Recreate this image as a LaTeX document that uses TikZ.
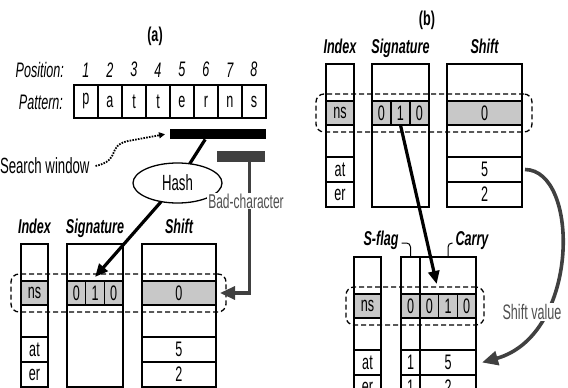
\documentclass[tikz,border=0pt]{standalone}
\usepackage{xcolor}
\usepackage{fontspec}
\setmainfont{Liberation Sans}[FakeStretch=0.6]
\newfontfamily\cabfont{Liberation Sans}[FakeStretch=0.63]
\usepackage{tikz}
\usetikzlibrary{positioning,arrows.meta,shapes.geometric,calc,fit}
\definecolor{relleno}{RGB}{200,200,200}
\definecolor{oscuro}{RGB}{64,64,64}
\definecolor{texto}{RGB}{80,80,80}

\begin{document}
\begin{tikzpicture}[x=1pt, y=-1pt,
  txt/.style={font=\fontsize{21}{24}\selectfont, inner sep=0pt, outer sep=0pt},
  cab/.style={txt, font=\cabfont\fontsize{20}{22}\selectfont\bfseries\itshape},
  celda/.style={txt, draw, line width=1.3pt, minimum width=#1},
  gris/.style={fill=relleno},
  f1/.style={minimum height=37}, f2/.style={minimum height=24},
  f3/.style={minimum height=32}, f4/.style={minimum height=25},
  marco/.style={draw, line width=1.3pt, dash pattern=on 5pt off 3pt,
    rounded corners=8pt, inner xsep=10pt, inner ysep=7pt},
  flecha/.style={line width=3.2pt, draw=#1,
    -{Triangle[length=13pt,width=11pt]}},
  guia/.style={line width=1pt, rounded corners=4pt},
]
  \clip (0,0) rectangle (568,388);
  % ---- Patron y ventana de busqueda ----
  \node[cab, font=\cabfont\fontsize{20}{22}\selectfont\bfseries] at (155,36) {(a)};
  \node[txt, font=\fontsize{21}{24}\selectfont\itshape, anchor=east] at (64,70) {Position:};
  \node[txt, font=\fontsize{21}{24}\selectfont\itshape, anchor=east] at (63,102) {Pattern:};
  \foreach \l [count=\i] in {p,a,t,t,e,r,n,s} {
    \node[celda=24, minimum height=33, anchor=north west] (pat\i) at (50+24*\i,85) {\l};
    \node[txt, font=\fontsize{21}{24}\selectfont\itshape, above=8pt of pat\i] {\i};
  }
  \node[fill=black, inner sep=0pt, minimum width=96, minimum height=10,
    anchor=north west] (vent) at (170,129) {};
  \node[fill=oscuro, inner sep=0pt, minimum width=48, minimum height=11,
    anchor=north west] (barra) at (217,151) {};
  \node[txt, font=\fontsize{22}{24}\selectfont, anchor=west] (busq) at (0,166) {Search window};
  \node[txt, font=\fontsize{22}{24}\selectfont, ellipse, draw, line width=1.3pt,
    minimum width=89, minimum height=40] (hash) at (177.5,183) {Hash};
  % ---- Tabla (a) ----
  \node[celda=27, f1, anchor=north west] (ai1) at (21,244) {};
  \node[celda=27, f2, gris, below=0pt of ai1] (ai2) {ns};
  \node[celda=27, f3, below=0pt of ai2] (ai3) {};
  \node[celda=27, f4, below=0pt of ai3] (ai4) {at};
  \node[celda=27, f4, below=0pt of ai4] (ai5) {er};
  \node[celda=56, minimum height=143, anchor=north west] (as) at (67,244) {};
  \node[celda=18.67, f2, gris, anchor=north west] (as1) at (as.west |- ai2.north) {0};
  \node[celda=18.67, f2, gris, right=0pt of as1] (as2) {1};
  \node[celda=18.67, f2, gris, right=0pt of as2] (as3) {0};
  \node[celda=74, f1, anchor=north west] (ah1) at (142,244) {};
  \node[celda=74, f2, gris, below=0pt of ah1] (ah2) {0};
  \node[celda=74, f3, below=0pt of ah2] (ah3) {};
  \node[celda=74, f4, below=0pt of ah3] (ah4) {5};
  \node[celda=74, f4, below=0pt of ah4] (ah5) {2};
  \node[cab, above=11pt of ai1.north, anchor=base] {Index};
  \node[cab, above=11pt of as.north, anchor=base] {Signature};
  \node[cab, above=11pt of ah1.north, anchor=base] {Shift};
  \node[marco, fit=(ai2)(ah2)] (am) {};
  % ---- Tabla (b) ----
  \node[cab, font=\cabfont\fontsize{20}{22}\selectfont\bfseries] at (427,20) {(b)};
  \node[celda=28, f1, anchor=north west] (bi1) at (326,64) {};
  \node[celda=28, f2, gris, below=0pt of bi1] (bi2) {ns};
  \node[celda=28, f3, below=0pt of bi2] (bi3) {};
  \node[celda=28, f4, below=0pt of bi3] (bi4) {at};
  \node[celda=28, f4, below=0pt of bi4] (bi5) {er};
  \node[celda=57, minimum height=143, anchor=north west] (bs) at (372,64) {};
  \node[celda=19, f2, gris, anchor=north west] (bs1) at (bs.west |- bi2.north) {0};
  \node[celda=19, f2, gris, right=0pt of bs1] (bs2) {1};
  \node[celda=19, f2, gris, right=0pt of bs2] (bs3) {0};
  \node[celda=75, f1, anchor=north west] (bh1) at (447,64) {};
  \node[celda=75, f2, gris, below=0pt of bh1] (bh2) {0};
  \node[celda=75, f3, below=0pt of bh2] (bh3) {};
  \node[celda=75, f4, below=0pt of bh3] (bh4) {5};
  \node[celda=75, f4, below=0pt of bh4] (bh5) {2};
  \node[cab, above=11pt of bi1.north, anchor=base] {Index};
  \node[cab, above=11pt of bs.north, anchor=base] {Signature};
  \node[cab, above=11pt of bh1.north, anchor=base] {Shift};
  \node[marco, fit=(bi2)(bh2)] (bm) {};
  % ---- Tabla con S-flag y Carry ----
  \node[celda=27, f1, anchor=north west] (ci1) at (354,257) {};
  \node[celda=27, f2, gris, below=0pt of ci1] (ci2) {ns};
  \node[celda=27, f3, below=0pt of ci2] (ci3) {};
  \node[celda=27, f4, below=0pt of ci3] (ci4) {at};
  \node[celda=27, f4, below=0pt of ci4] (ci5) {er};
  \node[celda=19, f1, anchor=north west] (cf1) at (401,257) {};
  \node[celda=19, f2, gris, below=0pt of cf1] (cf2) {0};
  \node[celda=19, f3, below=0pt of cf2] (cf3) {};
  \node[celda=19, f4, below=0pt of cf3] (cf4) {1};
  \node[celda=19, f4, below=0pt of cf4] (cf5) {1};
  \node[celda=56, f1, anchor=north west] (cc1) at (420,257) {};
  \node[celda=18.67, f2, gris, anchor=north west] (cn1) at (cc1.south west) {0};
  \node[celda=18.67, f2, gris, right=0pt of cn1] (cn2) {1};
  \node[celda=18.67, f2, gris, right=0pt of cn2] (cn3) {0};
  \node[celda=56, f3, anchor=north west] (cc3) at (cn1.south west) {};
  \node[celda=56, f4, below=0pt of cc3] (cc4) {5};
  \node[celda=56, f4, below=0pt of cc4] (cc5) {2};
  \node[cab, anchor=base] (sflag) at (381,245) {S-flag};
  \node[cab, anchor=base] (carry) at (472,245) {Carry};
  \node[marco, inner xsep=8pt, fit=(ci2)(cn3)] (cm) {};
  % ---- Conexiones ----
  \draw[line width=1.8pt, dash pattern=on 1.6pt off 1.2pt,
    -{Triangle[length=6pt,width=6pt]}]
    ([xshift=6pt]busq.east) .. controls (122,160) and (106,146) .. (128,141)
    -- ([xshift=-5pt]vent.west);
  \draw[line width=3.2pt] ([xshift=-13pt]vent.south) -- (hash);
  \draw[flecha=black] (hash) -- ([yshift=4pt]as2.north);
  \draw[flecha=oscuro, -{Triangle[length=15pt,width=13pt]}]
    ([xshift=8pt]barra.south) |- ([xshift=4pt]ah2.east);
  \node[txt, font=\fontsize{20}{22}\selectfont, text=texto, fill=white,
    inner sep=1pt] (malo) at (246,201) {Bad-character};
  \draw[flecha=black] (bs2.south) -- ([xshift=-2pt,yshift=10pt]cn2.north west);
  \draw[guia] ([xshift=3pt,yshift=2pt]sflag.base east) -| (cf1.north);
  \draw[guia] ([xshift=-3pt,yshift=2pt]carry.base west) -| (cc1.north);
  \draw[flecha=oscuro, line width=3.6pt, -{Triangle[length=16pt,width=14pt]}]
    ([xshift=3pt]bh4.east) .. controls (580,170) and (580,335) .. ([xshift=6pt]cc4.east);
  \node[txt, text=texto, fill=white, inner sep=1pt] (valor) at (532,312) {Shift value};
\end{tikzpicture}
\end{document}
